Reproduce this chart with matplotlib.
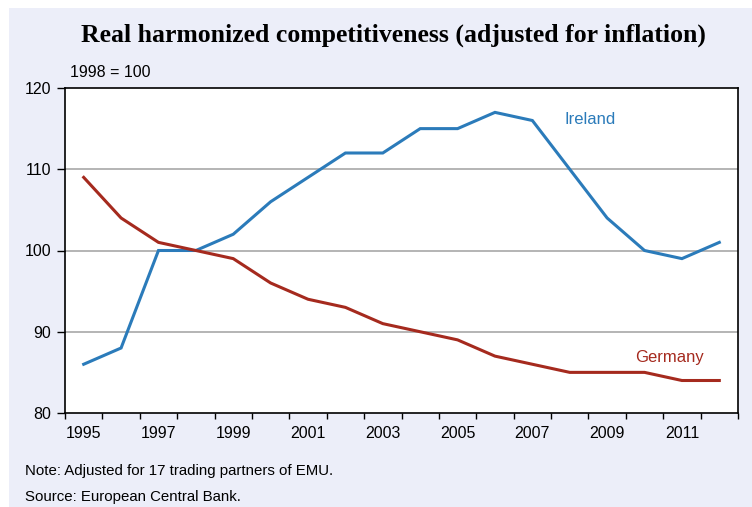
import numpy as np
import matplotlib
matplotlib.use("Agg")
import matplotlib.pyplot as plt
from matplotlib.patches import Rectangle

years = list(range(1995, 2013))
ireland = [86, 88, 100, 100, 102, 106, 109, 112, 112, 115, 115, 117, 116, 110, 104, 100, 99, 101]
germany = [109, 104, 101, 100, 99, 96, 94, 93, 91, 90, 89, 87, 86, 85, 85, 85, 84, 84]
year_labels = [1995, 1997, 1999, 2001, 2003, 2005, 2007, 2009, 2011]

blue = "#2b7bba"
red = "#a52a1e"
bg = "#eceef9"

plt.rcParams['font.family'] = ['Liberation Sans', 'DejaVu Sans']

W, H = 752, 507
fig = plt.figure(figsize=(W / 100, H / 100), dpi=100)
fig.patch.set_facecolor("white")
fig.add_artist(Rectangle((9 / W, 0), 1 - 9 / W, 1 - 8 / H, transform=fig.transFigure,
                         facecolor=bg, edgecolor="none", zorder=-10))

ax = fig.add_axes([65 / W, 1 - 413 / H, (738 - 65) / W, (413 - 88) / H])
ax.set_zorder(1)
ax.set_facecolor("white")

ax.plot(years, ireland, color=blue, lw=2.2, solid_joinstyle="miter", zorder=3)
ax.plot(years, germany, color=red, lw=2.2, solid_joinstyle="miter", zorder=3)

ax.set_xlim(1994.5, 2012.5)
ax.set_ylim(80, 120)
ax.set_yticks([80, 90, 100, 110, 120])
ax.set_xticks(np.arange(1994.5, 2013, 1.0))
ax.set_xticklabels([])
ax.set_xticks(year_labels, minor=True)
ax.set_xticklabels([str(y) for y in year_labels], minor=True)
ax.tick_params(axis="x", which="minor", length=0, pad=9, labelsize=11.5)
ax.tick_params(axis="x", which="major", length=4, width=1, direction="out")
ax.tick_params(axis="y", length=6, width=1, direction="out", labelsize=11.5, pad=4)

for v in [90, 100, 110]:
    ax.axhline(v, color="#a8a8a8", lw=1.2, zorder=1)
for s in ax.spines.values():
    s.set_color("black")
    s.set_linewidth(1.2)

ax.text(2008.54, 116.1, "Ireland", color=blue, fontsize=12, va="center", ha="center")
ax.text(2010.67, 86.8, "Germany", color=red, fontsize=12, va="center", ha="center")

fig.text(393 / W, 1 - 35 / H, "Real harmonized competitiveness (adjusted for inflation)",
         family=["Liberation Serif", "DejaVu Serif"], fontweight="bold", fontsize=18.5,
         ha="center", va="center")
fig.text(70 / W, 1 - 72 / H, "1998 = 100", fontsize=11.5, ha="left", va="center")
fig.text(25 / W, 1 - 471 / H, "Note: Adjusted for 17 trading partners of EMU.", fontsize=10.8,
         ha="left", va="center")
fig.text(25 / W, 1 - 497 / H, "Source: European Central Bank.", fontsize=10.8,
         ha="left", va="center")

fig.savefig("out.png", dpi=100)
